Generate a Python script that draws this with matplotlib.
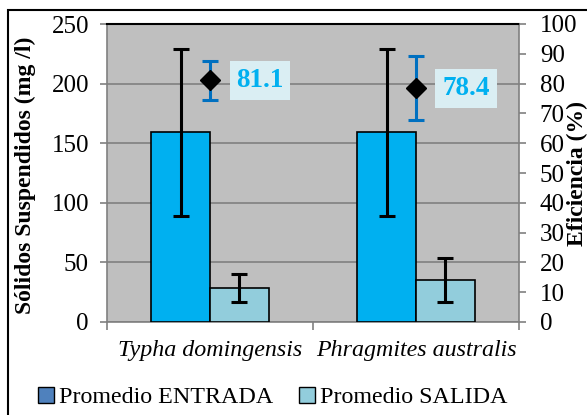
import numpy as np
import matplotlib.pyplot as plt
from matplotlib.patches import Rectangle
from matplotlib.lines import Line2D

# DATOS
species = ["Typha domingensis", "Phragmites australis"]
entrada = [159, 159]
entrada_err = [70, 70]
salida = [28.5, 35]
salida_err = [12, 18.5]
eficiencia = [81.1, 78.4]
eficiencia_err = [6.6, 10.7]

plt.rcParams['font.family'] = ['Liberation Serif', 'DejaVu Serif']

fig = plt.figure(figsize=(5.87, 4.15), dpi=100)
ax = fig.add_axes([107 / 587, 1 - 322 / 415, 412 / 587, 298 / 415])
ax.set_facecolor("#BFBFBF")

x = np.arange(len(species))
w = 0.286

ax.bar(x - w / 2, entrada, w, color="#00B0F0", edgecolor="black", linewidth=1.2, zorder=3)
ax.bar(x + w / 2, salida, w, color="#92CDDC", edgecolor="black", linewidth=1.2, zorder=3)
ax.errorbar(x - w / 2, entrada, yerr=entrada_err, fmt="none", ecolor="black",
            elinewidth=2.2, capsize=6, capthick=2.2, zorder=4)
ax.errorbar(x + w / 2, salida, yerr=salida_err, fmt="none", ecolor="black",
            elinewidth=2.2, capsize=6, capthick=2.2, zorder=4)

ax.set_xlim(-0.5, 1.5)
ax.set_ylim(0, 250)
ax.set_yticks(range(0, 251, 50))
ax.grid(axis="y", color="#808080", linewidth=1.2, zorder=0)
ax.set_axisbelow(True)

ax.set_xticks(x)
ax.set_xticklabels(species, fontsize=17.3, style="italic")
ax.set_xticks([-0.5, 0.5, 1.5], minor=True)
ax.tick_params(axis="x", which="major", length=0, pad=13)
ax.tick_params(axis="x", which="minor", length=6, color="#808080", width=1.2)
ax.tick_params(axis="y", labelsize=18, length=5, color="#808080", width=1.2, pad=8)

for s in ["left", "right", "bottom"]:
    ax.spines[s].set_color("#808080")
    ax.spines[s].set_linewidth(1.2)
ax.spines["top"].set_color("black")
ax.spines["top"].set_linewidth(1.5)

# EJE SECUNDARIO: EFICIENCIA
ax2 = ax.twinx()
ax2.set_ylim(0, 100)
ax2.set_yticks(range(0, 101, 10))
ax2.tick_params(axis="y", labelsize=18, length=5, color="#808080", width=1.2, pad=10)
for s in ax2.spines.values():
    s.set_visible(False)

ax2.errorbar(x, eficiencia, yerr=eficiencia_err, fmt="none", ecolor="#0070C0",
             elinewidth=2.2, capsize=6, capthick=2.2, zorder=4)
ax2.plot(x, eficiencia, "D", color="black", markersize=10, zorder=5)
for xi, v in zip(x, eficiencia):
    ax2.annotate(f"{v:.1f}", (xi, v), xytext=(36, 0), textcoords="offset points",
                 fontsize=19.5, fontweight="bold", color="#00B0F0", ha="center", va="center",
                 bbox=dict(boxstyle="square,pad=0.25", facecolor="#DAEEF3", edgecolor="none"))

fig.text(25 / 587, 1 - 175 / 415, "Sólidos Suspendidos (mg /l)", rotation=90,
         ha="center", va="center", fontsize=17, fontweight="bold")
fig.text(577 / 587, 1 - 173 / 415, "Eficiencia (%)", rotation=90,
         ha="center", va="center", fontsize=17, fontweight="bold")

handles = [Line2D([], [], marker="s", linestyle="none", markersize=11,
                  markerfacecolor="#4F81BD", markeredgecolor="black"),
           Line2D([], [], marker="s", linestyle="none", markersize=11,
                  markerfacecolor="#92CDDC", markeredgecolor="black")]
fig.legend(handles, ["Promedio ENTRADA", "Promedio SALIDA"], loc="center",
           bbox_to_anchor=(271 / 587, 1 - 397 / 415), ncol=2, frameon=False,
           fontsize=17.3, handletextpad=0.05, columnspacing=0.9, handlelength=1.0)

# MARCO EXTERIOR
fig.patches.append(Rectangle((8 / 587, -0.1), 1.2, 1.1 - 10 / 415, transform=fig.transFigure,
                             fill=False, edgecolor="black", linewidth=1.5))

fig.savefig("out.png", dpi=100)
